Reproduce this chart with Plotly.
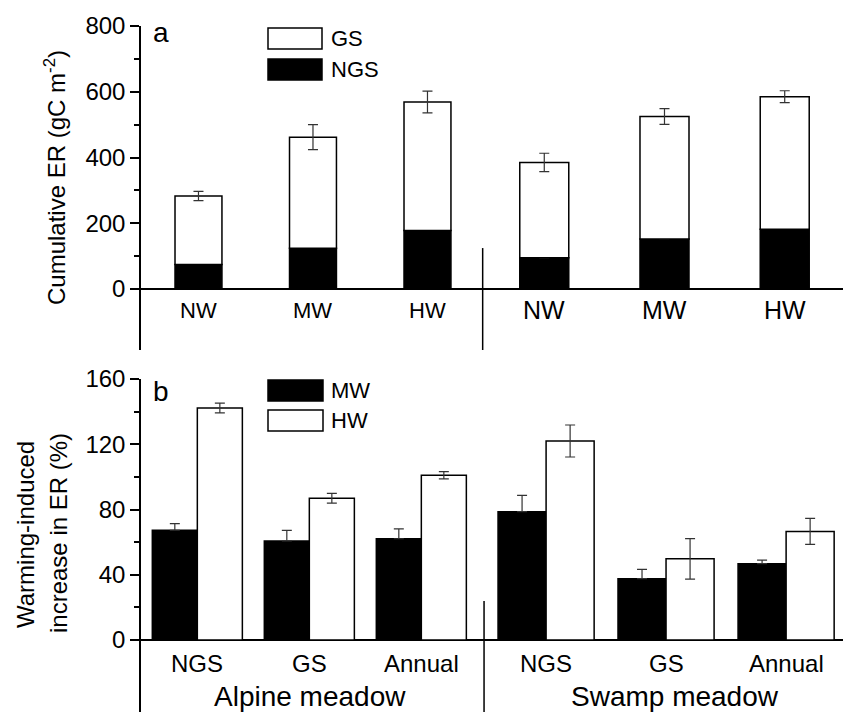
import plotly.graph_objects as go

# ---------------- data ----------------
treat_labels = ["NW", "MW", "HW"]
site_labels = ["Alpine meadow", "Swamp meadow"]
season_labels = ["NGS", "GS", "Annual"]

# panel a: cumulative ER (gC m-2), alpine NW/MW/HW then swamp NW/MW/HW
ngs_er = [75, 124, 178, 95, 152, 182]
ngs_err = [3, 7, 11, 0, 4, 3]
total_er = [283, 462, 569, 385, 525, 585]
total_err = [14, 38, 33, 28, 24, 18]

# panel b: warming-induced increase (%), alpine NGS/GS/Annual then swamp NGS/GS/Annual
mw_inc = [67.3, 60.7, 62.1, 78.7, 37.6, 46.8]
mw_err = [4, 6.5, 6, 10, 5.7, 2.2]
hw_inc = [142.2, 86.9, 101, 122, 49.8, 66.6]
hw_err = [3, 3, 2.2, 9.8, 12.4, 8]

# ---------------- layout helpers ----------------
W, H = 843, 712
def px(x):
    return x / W
def py(y):
    return (H - y) / H

top_pos = [1, 2, 3, 4.02, 5.07, 6.12]
top_w = [0.41, 0.41, 0.41, 0.428, 0.428, 0.428]
bot_pos = [1, 2, 3, 4.114, 5.185, 6.257]
bot_w = [0.402, 0.402, 0.402, 0.429, 0.429, 0.429]

ERRC = "#333333"
FONT = "Liberation Sans, Arial, sans-serif"

fig = go.Figure()

# panel a bars
fig.add_trace(go.Bar(
    x=top_pos, y=ngs_er, width=top_w, marker=dict(color="black", line=dict(color="black", width=1.5)),
    error_y=dict(type="data", array=ngs_err, arrayminus=[0]*6, color=ERRC, thickness=1.2, width=5),
    xaxis="x", yaxis="y", showlegend=False))
gs_part = [t - n for t, n in zip(total_er, ngs_er)]
fig.add_trace(go.Bar(
    x=top_pos, y=gs_part, base=ngs_er, width=top_w,
    marker=dict(color="white", line=dict(color="black", width=1.5)),
    error_y=dict(type="data", array=total_err, color=ERRC, thickness=1.2, width=5),
    xaxis="x", yaxis="y", showlegend=False))

# panel b bars
mw_x = [p - w / 2 for p, w in zip(bot_pos, bot_w)]
hw_x = [p + w / 2 for p, w in zip(bot_pos, bot_w)]
fig.add_trace(go.Bar(
    x=mw_x, y=mw_inc, width=bot_w, marker=dict(color="black", line=dict(color="black", width=1.5)),
    error_y=dict(type="data", array=mw_err, arrayminus=[0]*6, color=ERRC, thickness=1.2, width=5),
    xaxis="x2", yaxis="y2", showlegend=False))
fig.add_trace(go.Bar(
    x=hw_x, y=hw_inc, width=bot_w, marker=dict(color="white", line=dict(color="black", width=1.5)),
    error_y=dict(type="data", array=hw_err, color=ERRC, thickness=1.2, width=5),
    xaxis="x2", yaxis="y2", showlegend=False))

yax_common = dict(showline=True, linecolor="black", linewidth=1.5, ticks="outside", ticklen=9,
                  tickwidth=1.5, tickcolor="black", showgrid=False, zeroline=True,
                  zerolinecolor="black", zerolinewidth=1.5,
                  tickfont=dict(family=FONT, size=24, color="black"), automargin=False)

fig.update_layout(
    width=W, height=H, margin=dict(l=0, r=0, t=0, b=0),
    paper_bgcolor="white", plot_bgcolor="white", barmode="overlay",
    font=dict(family=FONT, color="black"),
    xaxis=dict(domain=[141 / W, 1], range=[0.498, 6.629], showticklabels=False, ticks="",
               showgrid=False, zeroline=False, showline=False, anchor="y"),
    yaxis=dict(domain=[py(350), py(26)], range=[-185.4, 800], tickvals=[0, 200, 400, 600, 800],
               minor=dict(tickvals=[100, 300, 500, 700], ticklen=5, ticks="outside", tickcolor="black", tickwidth=1.5),
               anchor="x", **yax_common),
    xaxis2=dict(domain=[141 / W, 1], range=[0.497, 6.765], showticklabels=False, ticks="",
                showgrid=False, zeroline=False, showline=False, anchor="y2"),
    yaxis2=dict(domain=[0, py(379)], range=[-44.1, 160], tickvals=[0, 40, 80, 120, 160],
                minor=dict(tickvals=[20, 60, 100, 140], ticklen=5, ticks="outside", tickcolor="black", tickwidth=1.5),
                anchor="x2", **yax_common),
)

shapes = []
# dividers
shapes.append(dict(type="line", xref="x", yref="y", x0=3.482, x1=3.482, y0=124.6, y1=-185.4,
                   line=dict(color="black", width=1.5)))
shapes.append(dict(type="line", xref="x2", yref="y2", x0=3.56, x1=3.56, y0=24, y1=-44.1,
                   line=dict(color="black", width=1.5)))
# legend boxes
def box(x0, y0, x1, y1, fill):
    return dict(type="rect", xref="paper", yref="paper", x0=px(x0), x1=px(x1), y0=py(y1), y1=py(y0),
                fillcolor=fill, line=dict(color="black", width=1.5))
shapes += [box(268, 28, 322, 49, "white"), box(268, 59, 322, 80, "black"),
           box(268, 380, 323, 401, "black"), box(268, 410, 323, 431, "white")]
fig.update_layout(shapes=shapes)

ann = []
def text(t, x, y, size, xanchor="center", angle=0):
    ann.append(dict(text=t, x=px(x), y=py(y), xref="paper", yref="paper", showarrow=False,
                    xanchor=xanchor, yanchor="middle", textangle=angle,
                    font=dict(family=FONT, size=size, color="black")))

# legends
text("GS", 329, 38.5, 22, "left")
text("NGS", 329, 69.5, 22, "left")
text("MW", 329, 390.5, 22, "left")
text("HW", 329, 420.5, 22, "left")
# panel letters
text("a", 151, 32, 28, "left")
text("b", 151, 391, 28, "left")
# axis titles
text("Cumulative ER (gC m<sup>-2</sup>)", 55, 178, 24, angle=-90)
text("Warming-induced", 25, 535, 24, angle=-90)
text("increase in ER (%)", 58, 533, 24, angle=-90)

# top x labels
for i, p in enumerate(top_pos):
    ann.append(dict(text=treat_labels[i % 3], x=p, y=py(310), xref="x", yref="paper", showarrow=False,
                    xanchor="center", yanchor="middle",
                    font=dict(family=FONT, size=22 if i < 3 else 25, color="black")))
# bottom x labels
for i, p in enumerate(bot_pos):
    ann.append(dict(text=season_labels[i % 3], x=p, y=py(663), xref="x2", yref="paper", showarrow=False,
                    xanchor="center", yanchor="middle", font=dict(family=FONT, size=24, color="black")))
text(site_labels[0], 310, 696, 28)
text(site_labels[1], 675, 696, 28)

fig.update_layout(annotations=ann)
fig.write_html("out.html", config={"displayModeBar": False},
               post_script="document.body.style.margin='0';document.body.style.overflow='hidden';")
